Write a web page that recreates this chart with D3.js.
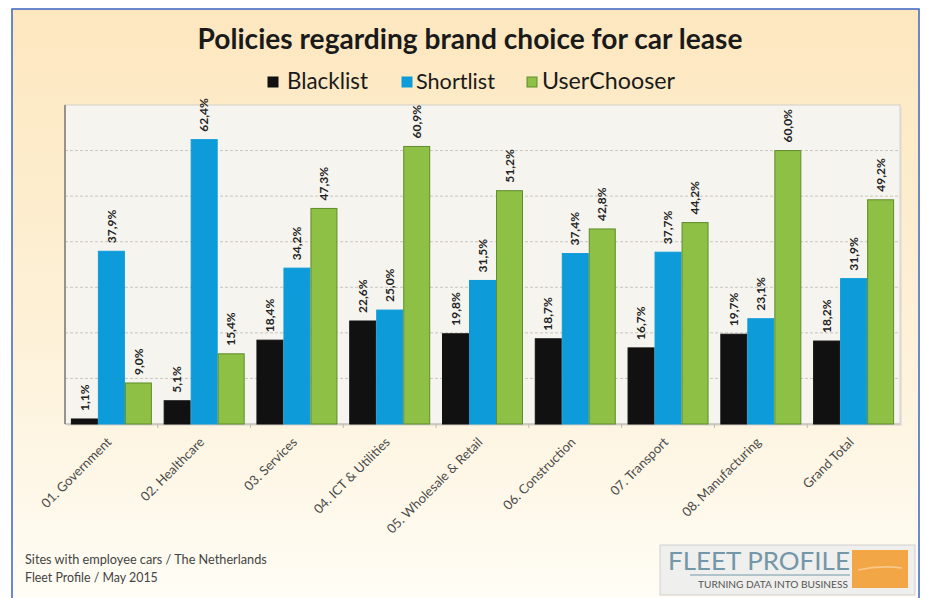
<!DOCTYPE html>
<html>
<head>
<meta charset="utf-8">
<script src="https://cdn.jsdelivr.net/npm/d3@7"></script>
<style>
  html, body { margin: 0; padding: 0; background: #fff; }
  svg { display: block; font-family: Lato, "Open Sans", sans-serif; }
</style>
</head>
<body>
<script>
const categories = ["01. Government", "02. Healthcare", "03. Services", "04. ICT & Utilities",
  "05. Wholesale & Retail", "06. Construction", "07. Transport", "08. Manufacturing", "Grand Total"]
const seriesNames = ["Blacklist", "Shortlist", "UserChooser"]
const blacklist = [1.1, 5.1, 18.4, 22.6, 19.8, 18.7, 16.7, 19.7, 18.2]
const shortlist = [37.9, 62.4, 34.2, 25.0, 31.5, 37.4, 37.7, 23.1, 31.9]
const userChooser = [9.0, 15.4, 47.3, 60.9, 51.2, 42.8, 44.2, 60.0, 49.2]
const gridValues = [10, 20, 30, 40, 50, 60]

const colors = { Blacklist: "#111111", Shortlist: "#0d9bd9", UserChooser: "#8dc044" }
const strokes = { Blacklist: "#111111", Shortlist: "#0d9bd9", UserChooser: "#5f8c2c" }

const W = 927, H = 598
const plot = { left: 65, right: 900, top: 105, bottom: 424 }

const rows = categories.map((c, i) => ({
  category: c,
  values: [
    { key: "Blacklist", value: blacklist[i] },
    { key: "Shortlist", value: shortlist[i] },
    { key: "UserChooser", value: userChooser[i] }
  ]
}))

const svg = d3.select("body").append("svg").attr("width", W).attr("height", H)
const defs = svg.append("defs")
const bg = defs.append("linearGradient").attr("id", "bg").attr("x1", 0).attr("y1", 0).attr("x2", 0).attr("y2", 1)
bg.append("stop").attr("offset", "0%").attr("stop-color", "#fde7bf")
bg.append("stop").attr("offset", "55%").attr("stop-color", "#fdf1d8")
bg.append("stop").attr("offset", "100%").attr("stop-color", "#fffdf6")

// outer frame
svg.append("rect").attr("x", 12).attr("y", 9).attr("width", 907).attr("height", H).attr("fill", "url(#bg)")
svg.append("path").attr("d", `M12,${H} V9 H919 V${H}`).attr("fill", "none")
  .attr("stroke", "#3d63c4").attr("stroke-width", 1.5)

const x0 = d3.scaleBand().domain(categories).range([plot.left, plot.right])
  .paddingInner(0.127).paddingOuter(0.0635)
const x1 = d3.scaleBand().domain(seriesNames).range([0, x0.bandwidth()])
const y = d3.scaleLinear().domain([0, 70]).range([plot.bottom, plot.top])

// plot area
svg.append("rect").attr("x", plot.left + 2).attr("y", plot.top + 2)
  .attr("width", plot.right - plot.left).attr("height", plot.bottom - plot.top)
  .attr("fill", "#e9e3d6")
svg.append("rect").attr("x", plot.left).attr("y", plot.top)
  .attr("width", plot.right - plot.left).attr("height", plot.bottom - plot.top)
  .attr("fill", "#f6f4ef").attr("stroke", "#d4d0c8")

svg.append("g").selectAll("line").data(gridValues).join("line")
  .attr("x1", plot.left).attr("x2", plot.right)
  .attr("y1", d => y(d)).attr("y2", d => y(d))
  .attr("stroke", "#c9c6c0").attr("stroke-dasharray", "3,2")

// category boundary ticks
const bounds = categories.slice(1).map(c => x0(c) - x0.step() * x0.paddingInner() / 2)
svg.append("g").selectAll("line").data(bounds).join("line")
  .attr("x1", d => d).attr("x2", d => d)
  .attr("y1", plot.bottom).attr("y2", plot.bottom + 4)
  .attr("stroke", "#bdbab3")

svg.append("line").attr("x1", plot.left).attr("x2", plot.right)
  .attr("y1", plot.bottom).attr("y2", plot.bottom).attr("stroke", "#bdbab3")
svg.append("line").attr("x1", plot.left).attr("x2", plot.left)
  .attr("y1", plot.top).attr("y2", plot.bottom).attr("stroke", "#7d7a74").attr("stroke-width", 1.5)

const fmt = v => d3.format(".1f")(v).replace(".", ",") + "%"

const groups = svg.append("g").selectAll("g").data(rows).join("g")
  .attr("transform", d => `translate(${x0(d.category)},0)`)

groups.selectAll("rect").data(d => d.values).join("rect")
  .attr("x", d => x1(d.key) + 0.5)
  .attr("width", x1.bandwidth() - 1)
  .attr("y", d => y(d.value))
  .attr("height", d => y(0) - y(d.value))
  .attr("fill", d => colors[d.key])
  .attr("stroke", d => strokes[d.key])
  .attr("stroke-width", 1)

groups.selectAll("text").data(d => d.values).join("text")
  .attr("transform", d => `translate(${x1(d.key) + x1.bandwidth() / 2},${y(d.value) - 8}) rotate(-90)`)
  .attr("dy", "0.35em")
  .attr("font-size", 12)
  .attr("font-weight", "bold")
  .attr("fill", "#222")
  .text(d => fmt(d.value))

// x labels
svg.append("g").selectAll("text").data(categories).join("text")
  .attr("transform", d => `translate(${x0(d) + x0.bandwidth() / 2 + 1},${plot.bottom + 19}) rotate(-45)`)
  .attr("text-anchor", "end")
  .attr("font-size", 13)
  .attr("fill", "#4a4a4a")
  .text(d => d)

function fit(sel, target) {
  const w = sel.node().getComputedTextLength()
  const fs = parseFloat(sel.attr("font-size"))
  sel.attr("font-size", fs * target / w)
}

// title
const title = svg.append("text").attr("x", 470).attr("y", 49)
  .attr("text-anchor", "middle").attr("font-size", 23).attr("font-weight", "bold")
  .attr("fill", "#1a1a1a").text("Policies regarding brand choice for car lease")
fit(title, 545)

// legend
const legendItems = [
  { key: "Blacklist", sq: 268, tx: 287, w: 81 },
  { key: "Shortlist", sq: 402, tx: 416, w: 79 },
  { key: "UserChooser", sq: 527, tx: 542, w: 133 }
]
const lg = svg.append("g")
legendItems.forEach(it => {
  lg.append("rect").attr("x", it.sq).attr("y", 77).attr("width", 10).attr("height", 10)
    .attr("fill", colors[it.key]).attr("stroke", strokes[it.key])
  const t = lg.append("text").attr("x", it.tx).attr("y", 89).attr("font-size", 19)
    .attr("fill", "#1a1a1a").text(it.key)
  fit(t, it.w)
})

// footer
const f1 = svg.append("text").attr("x", 25).attr("y", 564).attr("font-size", 10).attr("fill", "#444")
  .text("Sites with employee cars / The Netherlands")
fit(f1, 242)
const f2 = svg.append("text").attr("x", 25).attr("y", 582).attr("font-size", 10).attr("fill", "#444")
  .text("Fleet Profile / May 2015")
fit(f2, 133)

// logo
const logo = svg.append("g")
logo.append("rect").attr("x", 660).attr("y", 545).attr("width", 255).attr("height", 50)
  .attr("fill", "#efefed").attr("stroke", "#cfcfcf")
logo.append("rect").attr("x", 852).attr("y", 550).attr("width", 56).attr("height", 38).attr("fill", "#f2a646")
logo.append("path").attr("d", "M858,570 Q880,565 902,568").attr("stroke", "#f8c98a").attr("stroke-width", 1.5).attr("fill", "none")
const lt = logo.append("text").attr("x", 668).attr("y", 570).attr("font-size", 25)
  .attr("fill", "#7396a8").text("FLEET PROFILE")
fit(lt, 182)
logo.append("line").attr("x1", 690).attr("x2", 850).attr("y1", 575).attr("y2", 575).attr("stroke", "#7396a8")
const tl = logo.append("text").attr("x", 698).attr("y", 588).attr("font-size", 8)
  .attr("fill", "#555").text("TURNING DATA INTO BUSINESS")
fit(tl, 150)
</script>
</body>
</html>
